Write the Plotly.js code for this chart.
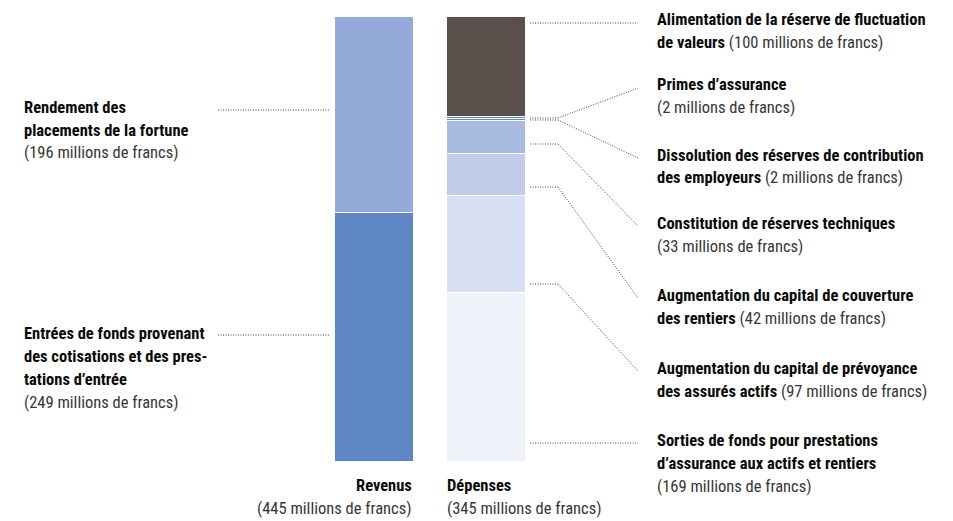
<!DOCTYPE html>
<html>
<head>
<meta charset="utf-8">
<script src="https://cdn.plot.ly/plotly-3.0.1.min.js"></script>
<style>
html,body{margin:0;padding:0;background:#fff;}
#chart{width:953px;height:521px;}
svg text{font-stretch:condensed;}
</style>
</head>
<body>
<div id="chart"></div>
<script>
// ---------------- DATA ----------------
const barCategories = ['Revenus', 'Dépenses'];
const barTotals = [445, 345];

// Revenus, bottom to top
const revenusNames = [
  'Entrées de fonds provenant des cotisations et des prestations d’entrée',
  'Rendement des placements de la fortune'
];
const revenusValues = [249, 196];

// Dépenses, bottom to top
const depensesNames = [
  'Sorties de fonds pour prestations d’assurance aux actifs et rentiers',
  'Augmentation du capital de prévoyance des assurés actifs',
  'Augmentation du capital de couverture des rentiers',
  'Constitution de réserves techniques',
  'Dissolution des réserves de contribution des employeurs',
  'Primes d’assurance',
  'Alimentation de la réserve de fluctuation de valeurs'
];
const depensesValues = [169, 97, 42, 33, 2, 2, 100];

// label lines ({v} = value)
const revenusLabelLines = [
  ['<b>Entrées de fonds provenant</b>', '<b>des cotisations et des pres-</b>', '<b>tations d’entrée</b>', '({v} millions de francs)'],
  ['<b>Rendement des</b>', '<b>placements de la fortune</b>', '({v} millions de francs)']
];
const depensesLabelLines = [
  ['<b>Sorties de fonds pour prestations</b>', '<b>d’assurance aux actifs et rentiers</b>', '({v} millions de francs)'],
  ['<b>Augmentation du capital de prévoyance</b>', '<b>des assurés actifs</b> ({v} millions de francs)'],
  ['<b>Augmentation du capital de couverture</b>', '<b>des rentiers</b> ({v} millions de francs)'],
  ['<b>Constitution de réserves techniques</b>', '({v} millions de francs)'],
  ['<b>Dissolution des réserves de contribution</b>', '<b>des employeurs</b> ({v} millions de francs)'],
  ['<b>Primes d’assurance</b>', '({v} millions de francs)'],
  ['<b>Alimentation de la réserve de fluctuation</b>', '<b>de valeurs</b> ({v} millions de francs)']
];

// ---------------- STYLE / LAYOUT CONFIG ----------------
const W = 953, H = 521;
const ZERO_PX = 461.5;           // pixel row of value 0
const revenusColors = ['#5f87c6', '#94abd9'];
const depensesColors = ['#eef1fa', '#d9dff2', '#c3cdeb', '#a9bbe1', '#5f87c6', '#5f87c6', '#5b4f4b'];
const FONT = 'Roboto, "DejaVu Sans Condensed", sans-serif';
const FS = 16.5;
const LINE_GAP = 23;
const BOLD_COLOR = '#0a0a0a';
const REG_COLOR = '#363636';

// label placement (px): first-line centre of each label
const revLabelX = 22;
const revLabelY = [333, 107];
const revLeaderY = [335, 110];
const depLabelX = 655;
const depLabelY = [440, 368, 295, 223, 155, 85, 20];
// leader anchor on bar (px) for non-thin segments; null => use segment middle
const depLeaderAnchor = [443, 284, 187, 144, null, null, 23];

// ---------------- BUILD ----------------
const px2py = py => 1 - py / H;
const px2px = px => px / W;

const traces = [];
revenusValues.forEach((v, i) => {
  traces.push({type: 'bar', x: [barCategories[0]], y: [v], name: revenusNames[i], width: 0.714,
    marker: {color: revenusColors[i], line: {color: '#ffffff', width: 1}}, hoverinfo: 'name+y'});
});
depensesValues.forEach((v, i) => {
  traces.push({type: 'bar', x: [barCategories[1]], y: [v], name: depensesNames[i], width: 0.714,
    marker: {color: depensesColors[i], line: {color: '#ffffff', width: 1}}, hoverinfo: 'name+y'});
});

const annotations = [];
const shapes = [];
function fmt(line, v) {
  return line.replace('{v}', v).replace(/\(([^)]*)\)/, '<span style="color:' + REG_COLOR + '">($1)</span>');
}
function addLines(lines, v, x, y0, xanchor) {
  lines.forEach((l, k) => {
    annotations.push({xref: 'paper', yref: 'paper', x: px2px(x), y: px2py(y0 + k * LINE_GAP),
      text: fmt(l, v), xanchor: xanchor, yanchor: 'middle', showarrow: false, align: xanchor,
      font: {family: FONT, size: FS, color: BOLD_COLOR}});
  });
}
function seg(x0, y0, x1, y1) {
  shapes.push({type: 'line', xref: 'paper', yref: 'paper', x0: px2px(x0), y0: px2py(y0), x1: px2px(x1), y1: px2py(y1),
    line: {color: '#4a4a4a', width: 1, dash: '1px,1.5px'}});
}

// Revenus labels
revenusLabelLines.forEach((lines, i) => {
  addLines(lines, revenusValues[i], revLabelX, revLabelY[i], 'left');
  seg(218, revLeaderY[i], 330, revLeaderY[i]);
});
// Dépenses labels
let cum = 0;
depensesLabelLines.forEach((lines, i) => {
  const v = depensesValues[i];
  addLines(lines, v, depLabelX, depLabelY[i], 'left');
  const anchor = depLeaderAnchor[i] !== null ? depLeaderAnchor[i] : Math.round(ZERO_PX - (cum + v / 2));
  const endY = depLabelY[i] + 3;
  if (Math.abs(anchor - endY) < 1) {
    seg(530, anchor, 638, endY);
  } else {
    seg(530, anchor, 558, anchor);
    seg(558, anchor, 638, endY);
  }
  cum += v;
});

// Bar captions
annotations.push({xref: 'paper', yref: 'paper', x: px2px(414), y: px2py(485), text: '<b>' + barCategories[0] + '</b>',
  xanchor: 'right', yanchor: 'middle', showarrow: false, align: 'right', font: {family: FONT, size: FS, color: BOLD_COLOR}});
annotations.push({xref: 'paper', yref: 'paper', x: px2px(414), y: px2py(508), text: '(' + barTotals[0] + ' millions de francs)',
  xanchor: 'right', yanchor: 'middle', showarrow: false, align: 'right', font: {family: FONT, size: FS, color: REG_COLOR}});
annotations.push({xref: 'paper', yref: 'paper', x: px2px(445), y: px2py(485), text: '<b>' + barCategories[1] + '</b>',
  xanchor: 'left', yanchor: 'middle', showarrow: false, align: 'left', font: {family: FONT, size: FS, color: BOLD_COLOR}});
annotations.push({xref: 'paper', yref: 'paper', x: px2px(445), y: px2py(508), text: '(' + barTotals[1] + ' millions de francs)',
  xanchor: 'left', yanchor: 'middle', showarrow: false, align: 'left', font: {family: FONT, size: FS, color: REG_COLOR}});

const layout = {
  width: W, height: H,
  margin: {l: 0, r: 0, t: 0, b: 0, pad: 0},
  paper_bgcolor: '#ffffff', plot_bgcolor: '#ffffff',
  barmode: 'stack', showlegend: false,
  xaxis: {type: 'category', categoryorder: 'array', categoryarray: barCategories, range: [-0.5, 1.5],
    domain: [318 / W, 542 / W], visible: false, fixedrange: true},
  yaxis: {range: [-(H - ZERO_PX), ZERO_PX], visible: false, fixedrange: true},
  annotations: annotations,
  shapes: shapes,
  font: {family: FONT}
};

Plotly.newPlot('chart', traces, layout, {displayModeBar: false, staticPlot: true});
</script>
</body>
</html>
